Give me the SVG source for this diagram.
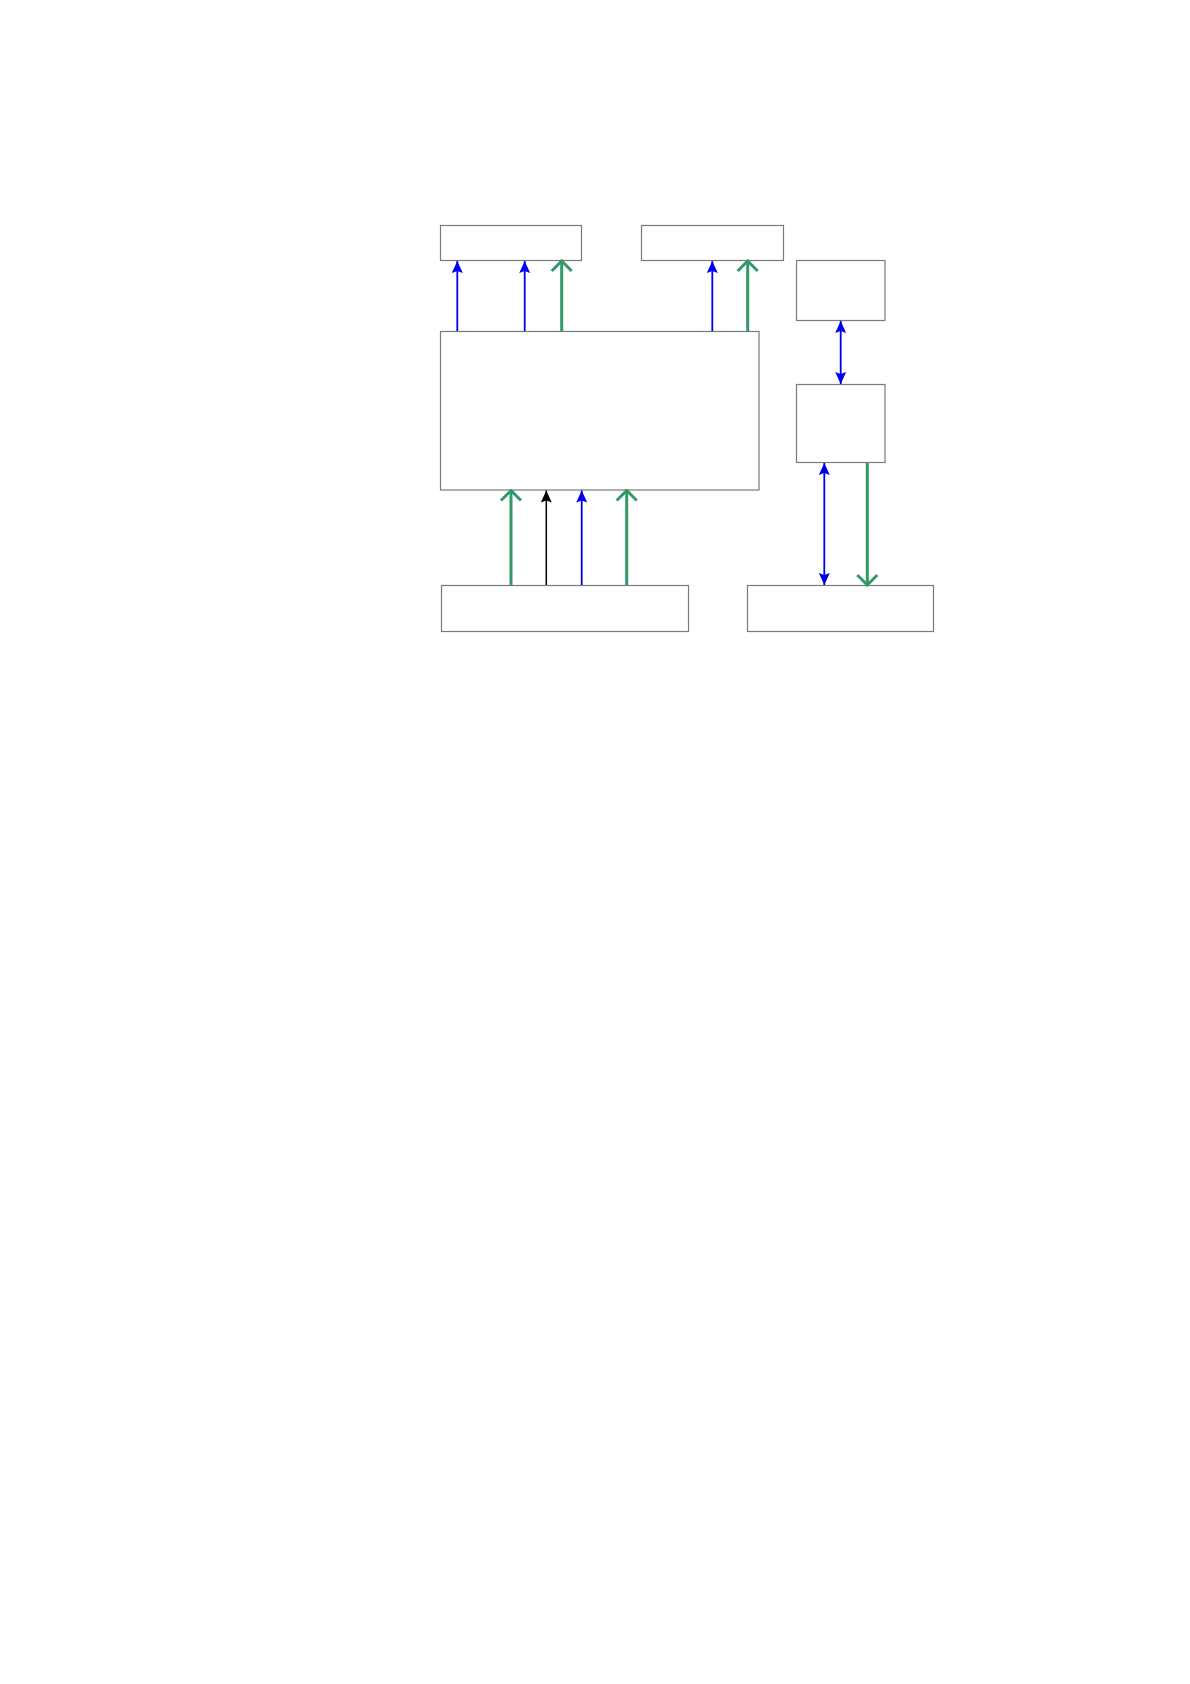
<svg xmlns="http://www.w3.org/2000/svg" width="1190" height="1684" viewBox="0 0 1190 1684">
<style>
.box{fill:#ffffff;stroke:#7a7a7a;stroke-width:1.2}
.blue{stroke:#0000ee;stroke-width:1.8;fill:none}
.black{stroke:#000000;stroke-width:1.5;fill:none}
.green{stroke:#339966;stroke-width:3;fill:none}
</style>
<defs>
<marker id="ab" markerUnits="userSpaceOnUse" viewBox="-13 -7 14 14" refX="0" refY="0" markerWidth="14" markerHeight="14" orient="auto-start-reverse">
<path d="M0,0 L-12,-5.5 L-10,0 L-12,5.5 z" fill="#0000ee"/>
</marker>
<marker id="ak" markerUnits="userSpaceOnUse" viewBox="-13 -7 14 14" refX="0" refY="0" markerWidth="14" markerHeight="14" orient="auto">
<path d="M0,0 L-12,-5.5 L-10,0 L-12,5.5 z" fill="#000000"/>
</marker>
<marker id="ag" markerUnits="userSpaceOnUse" viewBox="-13 -12 15 24" refX="0" refY="0" markerWidth="15" markerHeight="24" orient="auto">
<path d="M-10,-10 L0,0 L-10,10" fill="none" stroke="#339966" stroke-width="3"/>
</marker>
</defs>
<g id="top-left"><rect class="box" x="440.5" y="225.5" width="141" height="35"/></g>
<g id="top-right"><rect class="box" x="641.5" y="225.5" width="142" height="35"/></g>
<g id="main"><rect class="box" x="440.5" y="331.5" width="318.5" height="158.5"/></g>
<g id="side-top"><rect class="box" x="796.5" y="260.5" width="88.5" height="60"/></g>
<g id="side-mid"><rect class="box" x="796.5" y="384.5" width="88.5" height="78"/></g>
<g id="bottom-left"><rect class="box" x="441.5" y="585.5" width="247" height="46"/></g>
<g id="bottom-right"><rect class="box" x="747.5" y="585.5" width="186" height="46"/></g>
<g id="connectors">
<line class="blue" x1="457.3" y1="331" x2="457.3" y2="261" marker-end="url(#ab)"/>
<line class="blue" x1="524.7" y1="331" x2="524.7" y2="261" marker-end="url(#ab)"/>
<line class="green" x1="561.7" y1="331" x2="561.7" y2="261" marker-end="url(#ag)"/>
<line class="blue" x1="712.3" y1="331" x2="712.3" y2="261" marker-end="url(#ab)"/>
<line class="green" x1="747.7" y1="331" x2="747.7" y2="261" marker-end="url(#ag)"/>
<line class="green" x1="511" y1="585" x2="511" y2="490.5" marker-end="url(#ag)"/>
<line class="black" x1="546.3" y1="585" x2="546.3" y2="490.5" marker-end="url(#ak)"/>
<line class="blue" x1="581.7" y1="585" x2="581.7" y2="490.5" marker-end="url(#ab)"/>
<line class="green" x1="626.7" y1="585" x2="626.7" y2="490.5" marker-end="url(#ag)"/>
<line class="blue" x1="840.7" y1="321" x2="840.7" y2="384" marker-start="url(#ab)" marker-end="url(#ab)"/>
<line class="blue" x1="824.3" y1="463" x2="824.3" y2="585" marker-start="url(#ab)" marker-end="url(#ab)"/>
<line class="green" x1="867.3" y1="463" x2="867.3" y2="585" marker-end="url(#ag)"/>
</g>
</svg>
